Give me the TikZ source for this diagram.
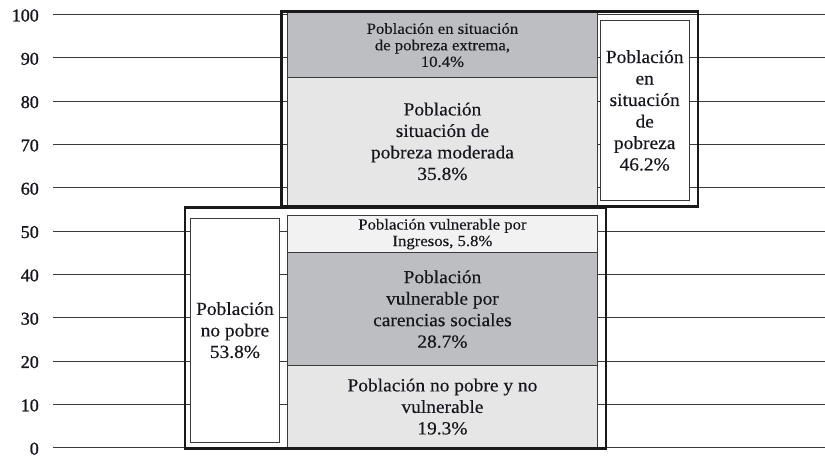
\documentclass[tikz,border=0pt]{standalone}
\usepackage{fontspec}
\setmainfont{Liberation Serif}[FakeStretch=1.05,FakeBold=0.3]
\newfontfamily\smallfont{Liberation Serif}[FakeStretch=1.08,FakeBold=0.3]
\newfontfamily\axisfont{Liberation Serif}[FakeBold=1.2]
\definecolor{Ink}{HTML}{16161E}
\definecolor{Rule}{HTML}{3A3A3A}
\definecolor{Dark}{HTML}{BDBEC2}
\definecolor{Light}{HTML}{E6E6E6}
\definecolor{Pale}{HTML}{F2F2F2}

\begin{document}
\begin{tikzpicture}[x=1pt,y=-1pt,
  box/.style={draw=Rule,line width=0.9pt,inner sep=0pt,align=center,text=Ink,anchor=north west},
  big/.style={font=\fontsize{18.5}{21.5}\selectfont},
  small/.style={font=\smallfont\fontsize{15.5}{16.5}\selectfont},
  frame/.style={draw=black!90,line width=2.6pt},
  grid/.style={draw=Rule,line width=1.1pt},
  tick/.style={anchor=east,text=Ink,inner sep=0pt,font=\axisfont\fontsize{18}{18}\selectfont}]
\useasboundingbox (0,0) rectangle (825,457);
% Grid and scale
\foreach \v in {0,10,...,100} {
  \draw [grid] (53,{447.7-4.332*\v}) -- (825,{447.7-4.332*\v});
  \node [tick] (t\v) at (39,{448.7-4.332*\v}) {\v};
}
% Poor population
\node [box,big,fill=Light,minimum width=310,minimum height=128.5] (moderada) at (287,76.7)
  {Población\\situación de\\pobreza moderada\\35.8\%};
\node [box,small,fill=Dark,minimum width=310,minimum height=64.2] (extrema) at (287,12.5)
  {Población en situación\\de pobreza extrema,\\10.4\%};
\node [box,big,fill=white,minimum width=89.5,minimum height=180] (pobreza) at (599.5,20)
  {Población\\en\\situación\\de\\pobreza\\46.2\%};
\draw [frame] (281.5,11.5) rectangle (698,206.5);
% Non-poor population
\node [box,small,fill=Pale,minimum width=309.4,minimum height=37.3] (ingresos) at (287.3,215)
  {Población vulnerable por\\Ingresos, 5.8\%};
\node [box,big,fill=Dark,minimum width=309.4,minimum height=112.7] (carencias) at (287.3,252.3)
  {Población\\vulnerable por\\carencias sociales\\28.7\%};
\node [box,big,fill=Light,minimum width=309.4,minimum height=82.3] (novulnerable) at (287.3,365)
  {Población no pobre y no\\vulnerable\\19.3\%};
\node [box,big,fill=white,minimum width=89,minimum height=224] (nopobre) at (190,217.7)
  {Población\\no pobre\\53.8\%};
\draw [frame] (185,207.5) rectangle (606,448.3);
\end{tikzpicture}
\end{document}
